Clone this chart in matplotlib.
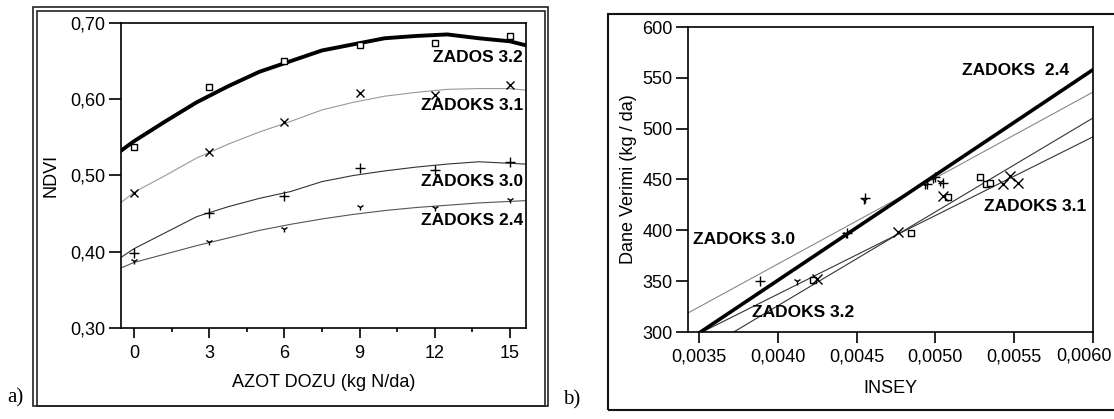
"""
plot.py - NDVI response to N dose (a) and grain yield vs INSEY (b).
"""

import matplotlib
matplotlib.use("Agg")
import matplotlib.pyplot as plt
from matplotlib.patches import Rectangle
from matplotlib.ticker import FuncFormatter, MultipleLocator

plt.rcParams["font.family"] = ["Liberation Sans", "DejaVu Sans"]

# ---- panel a: NDVI vs N dose ----
doses = [0, 3, 6, 9, 12, 15]
ndvi_32 = [0.537, 0.616, 0.650, 0.671, 0.674, 0.683]
ndvi_31 = [0.477, 0.531, 0.570, 0.608, 0.605, 0.619]
ndvi_30 = [0.399, 0.451, 0.473, 0.510, 0.507, 0.518]
ndvi_24 = [0.388, 0.413, 0.430, 0.459, 0.458, 0.468]

# smoothed fits
fit_x = [-0.5, 0, 1.25, 2.5, 3.75, 5, 6.25, 7.5, 8.75, 10, 11.25, 12.5, 13.75, 15, 15.6]
fit_32 = [0.533, 0.545, 0.571, 0.596, 0.617, 0.636, 0.650, 0.664, 0.672,
          0.680, 0.683, 0.685, 0.680, 0.676, 0.671]
fit_31 = [0.465, 0.478, 0.500, 0.523, 0.541, 0.557, 0.571, 0.586, 0.596,
          0.604, 0.609, 0.613, 0.614, 0.614, 0.612]
fit_30 = [0.393, 0.404, 0.425, 0.446, 0.459, 0.470, 0.479, 0.492, 0.500,
          0.506, 0.511, 0.515, 0.518, 0.516, 0.515]
fit_24 = [0.379, 0.386, 0.397, 0.408, 0.418, 0.428, 0.436, 0.443, 0.449,
          0.454, 0.458, 0.461, 0.464, 0.466, 0.467]

labels_a = ["ZADOS 3.2", "ZADOKS 3.1", "ZADOKS 3.0", "ZADOKS 2.4"]
label_y_a = [0.655, 0.592, 0.492, 0.441]

# ---- panel b: yield vs INSEY ----
insey_30 = [0.003887, 0.004440, 0.004553, 0.004947, 0.005000, 0.005048]
yield_30 = [350, 397, 432, 446, 452, 447]
insey_24 = [0.004122, 0.004430, 0.004545, 0.004934, 0.004985, 0.005030]
yield_24 = [350, 396, 430, 445, 450, 448]
insey_32 = [0.004223, 0.004845, 0.005080, 0.005283, 0.005320, 0.005346]
yield_32 = [351, 397, 433, 452, 446, 447]
insey_31 = [0.004249, 0.004763, 0.005048, 0.005429, 0.005473, 0.005524]
yield_31 = [352, 398, 434, 446, 453, 447]

# regression lines (end points)
reg_24_x, reg_24_y = [0.00350, 0.00600], [299, 558]
reg_30_x, reg_30_y = [0.00343, 0.00600], [318.7, 536]
reg_31_x, reg_31_y = [0.00352, 0.00600], [300, 492]
reg_32_x, reg_32_y = [0.00372, 0.00600], [300, 510.5]

labels_b = ["ZADOKS  2.4", "ZADOKS 3.0", "ZADOKS 3.1", "ZADOKS 3.2"]
label_pos_b = [(0.005169, 557), (0.003462, 390.5), (0.005308, 423), (0.003833, 318.7)]

W, H = 1114, 419
fig = plt.figure(figsize=(W / 100, H / 100), dpi=100)


def box(x0, y0, x1, y1, **kw):
    # pixel box (top-left origin) -> figure rectangle
    r = Rectangle((x0 / W, 1 - y1 / H), (x1 - x0) / W, (y1 - y0) / H,
                  transform=fig.transFigure, fill=False, **kw)
    fig.add_artist(r)


def ax_rect(l, t, r, b):
    return [l / W, 1 - b / H, (r - l) / W, (b - t) / H]


def comma(fmt, skip=None):
    def f(v, _):
        if skip is not None and abs(v - skip) < 1e-9:
            return ""
        return format(v, fmt).replace(".", ",")
    return FuncFormatter(f)


def style(ax):
    for s in ax.spines.values():
        s.set_linewidth(1.2)
    ax.tick_params(direction="out", width=1.2, labelsize=13, pad=2)


# frames around each panel
box(33, 7, 548, 406, lw=1.2, color="#222")
box(37, 11, 545, 406, lw=1.2, color="#222")
box(608, 14, 1120, 410, lw=1.5, color="#111")
fig.text(7 / W, 1 - 398 / H, "a)", family="Liberation Serif", fontsize=15, va="center")
fig.text(563 / W, 1 - 400 / H, "b)", family="Liberation Serif", fontsize=15, va="center")

# ---- panel a ----
ax = fig.add_axes(ax_rect(121, 23, 526, 328))
style(ax)
ax.plot(fit_x, fit_32, color="black", lw=2.8)
ax.plot(fit_x, fit_31, color="#999999", lw=0.8)
ax.plot(fit_x, fit_30, color="#333333", lw=0.8)
ax.plot(fit_x, fit_24, color="#555555", lw=0.8)
ms = dict(ls="none", color="black")
ax.plot(doses, ndvi_32, marker="s", ms=4.5, mfc="white", mew=1.0, **ms)
ax.plot(doses, ndvi_31, marker="x", ms=6, mew=1.0, **ms)
ax.plot(doses, ndvi_30, marker="+", ms=7, mew=1.0, **ms)
ax.plot(doses, ndvi_24, marker="1", ms=5, mew=1.0, **ms)
for lab, y in zip(labels_a, label_y_a):
    ax.text(15.52, y, lab, ha="right", va="center", fontsize=12.5, fontweight="bold")
ax.set_xlim(-0.52, 15.64)
ax.set_ylim(0.30, 0.70)
ax.xaxis.set_major_locator(MultipleLocator(3))
ax.xaxis.set_minor_locator(MultipleLocator(1.5))
ax.yaxis.set_major_locator(MultipleLocator(0.1))
ax.yaxis.set_major_formatter(comma(".2f"))
ax.tick_params(axis="y", length=9)
ax.tick_params(axis="x", which="major", length=7, pad=5)
ax.tick_params(axis="x", which="minor", length=3, width=1.2)
ax.set_xlabel("AZOT DOZU (kg N/da)", fontsize=13, labelpad=9)
ax.set_ylabel("NDVI", fontsize=13, labelpad=8)

# ---- panel b ----
bx = fig.add_axes(ax_rect(688, 27, 1093, 332))
style(bx)
bx.plot(reg_30_x, reg_30_y, color="#888888", lw=0.8)
bx.plot(reg_31_x, reg_31_y, color="#333333", lw=0.8)
bx.plot(reg_32_x, reg_32_y, color="#333333", lw=0.8)
bx.plot(reg_24_x, reg_24_y, color="black", lw=2.6)
bx.plot(insey_30, yield_30, marker="+", ms=7, mew=1.0, **ms)
bx.plot(insey_24, yield_24, marker="1", ms=6, mew=1.0, **ms)
bx.plot(insey_32, yield_32, marker="s", ms=5, mfc="white", mew=1.0, **ms)
bx.plot(insey_31, yield_31, marker="x", ms=7, mew=1.0, **ms)
for lab, (x, y) in zip(labels_b, label_pos_b):
    bx.text(x, y, lab, ha="left", va="center", fontsize=12.5, fontweight="bold")
x_max = 0.0060
bx.set_xlim(0.00343, x_max)
bx.set_ylim(300, 600)
bx.xaxis.set_major_locator(MultipleLocator(0.0005))
# the last label would run off the image: draw it ourselves, flush right
bx.xaxis.set_major_formatter(comma(".4f", skip=x_max))
bx.yaxis.set_major_locator(MultipleLocator(50))
bx.tick_params(axis="y", length=9)
bx.tick_params(axis="x", length=8, pad=4)
bx.set_xlabel("INSEY", fontsize=13, labelpad=10)
bx.set_ylabel("Dane Verimi (kg / da)", fontsize=13, labelpad=4)
fig.text(1112 / W, 1 - 356 / H, format(x_max, ".4f").replace(".", ","),
         ha="right", va="center", fontsize=13)

fig.savefig("out.png", dpi=100)
